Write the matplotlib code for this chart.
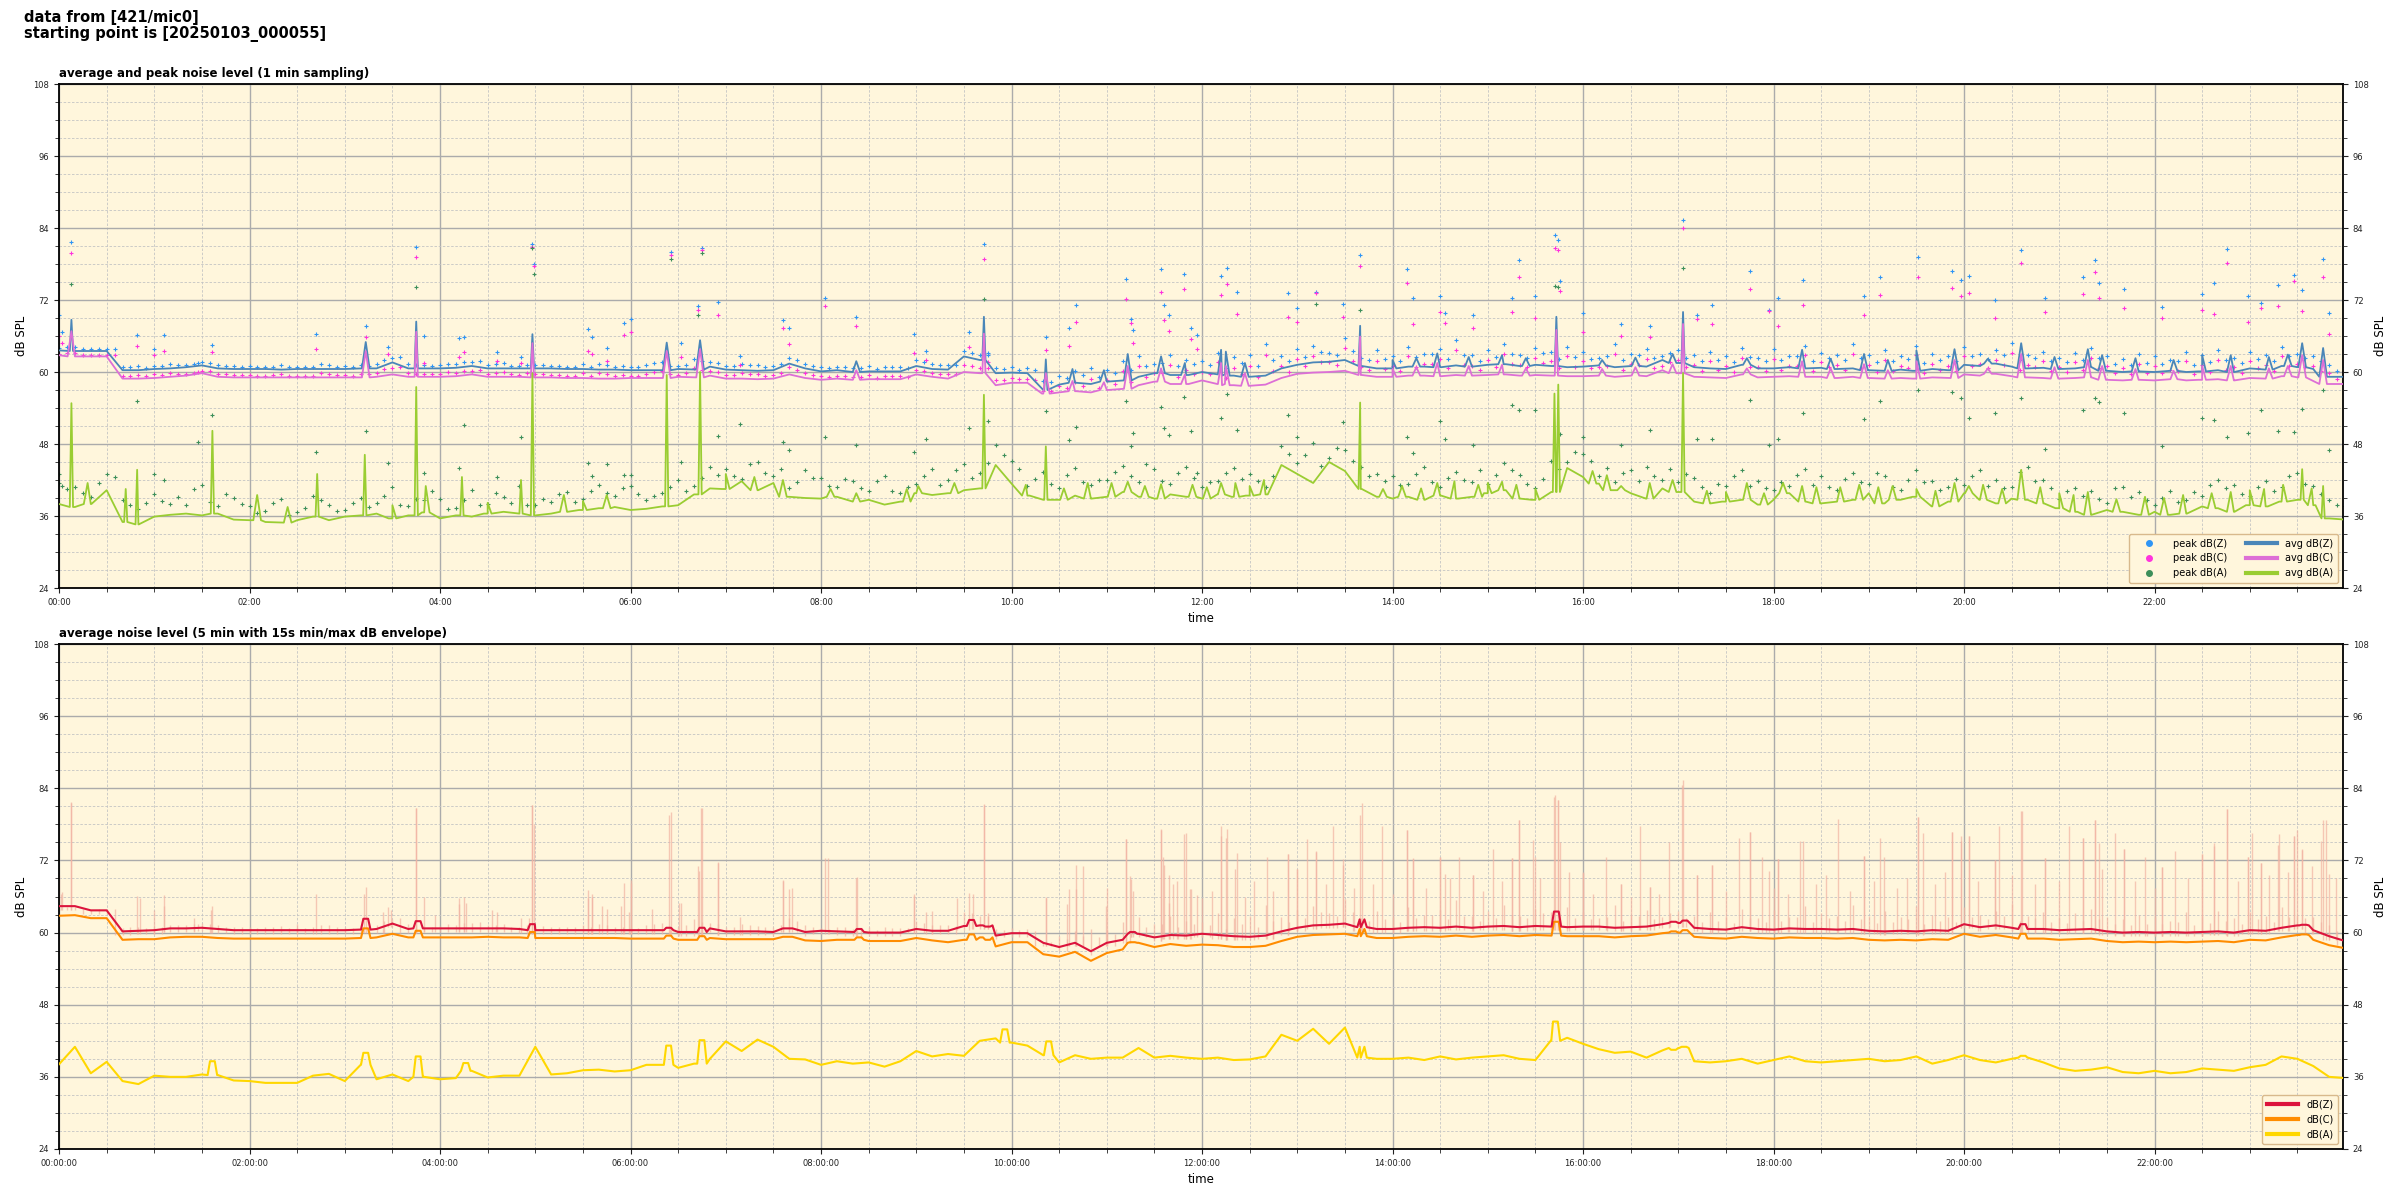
import numpy as np
import matplotlib
matplotlib.use('Agg')
import matplotlib.pyplot as plt
from matplotlib.ticker import MultipleLocator, FuncFormatter
from matplotlib.lines import Line2D

# ---------------- top panel: 1-min averages (10-min readings) ----------------
avgZ = [63.6, 63.5, 63.5, 63.5, 60.3, 60.3,
        60.5, 60.6, 60.8, 61.1, 60.6, 60.5,
        60.5, 60.5, 60.4, 60.5, 60.5, 60.5,
        60.5, 60.6, 60.6, 61.6, 60.6, 60.6,
        60.6, 60.7, 61.0, 60.6, 60.6, 60.6,
        60.6, 60.6, 60.5, 60.5, 60.4, 60.4,
        60.3, 60.3, 60.3, 60.5, 60.4, 60.9,
        60.4, 60.3, 60.2, 60.3, 61.4, 60.6,
        60.1, 60.3, 60.0, 60.1, 60.1, 60.1,
        61.0, 60.5, 60.4, 62.6, 62.0, 59.8,
        59.9, 59.8, 57.0, 57.9, 58.2, 58.0,
        58.4, 58.6, 59.2, 59.8, 59.5, 59.5,
        60.0, 59.6, 59.4, 59.2, 59.4, 60.6,
        61.2, 61.6, 61.7, 62.0, 61.0, 60.6,
        60.6, 60.9, 60.9, 60.8, 61.1, 60.9,
        61.2, 61.3, 61.0, 61.2, 61.0, 60.8,
        60.9, 61.1, 60.8, 61.0, 60.9, 62.0,
        61.5, 60.8, 60.6, 60.5, 61.2, 60.6,
        60.6, 60.8, 60.6, 60.7, 60.5, 60.6,
        60.3, 60.2, 60.4, 60.2, 60.5, 60.3,
        61.2, 61.0, 61.4, 60.9, 60.6, 60.7,
        60.5, 60.6, 60.8, 60.2, 60.0, 60.1,
        60.0, 60.2, 60.0, 60.1, 60.3, 60.0,
        60.6, 60.4, 61.0, 60.8, 60.5, 59.2,
        59.2]
avgC = [62.8, 62.6, 62.6, 62.6, 58.9, 58.9,
        59.0, 59.2, 59.4, 59.8, 59.2, 59.1,
        59.1, 59.1, 59.1, 59.1, 59.1, 59.1,
        59.1, 59.1, 59.2, 59.6, 59.2, 59.2,
        59.2, 59.3, 59.6, 59.2, 59.2, 59.2,
        59.1, 59.1, 59.0, 59.0, 58.9, 58.9,
        59.0, 59.0, 59.0, 59.2, 59.1, 59.4,
        58.9, 58.9, 58.8, 58.9, 59.6, 59.0,
        58.7, 58.9, 58.7, 58.8, 58.8, 58.8,
        59.6, 59.2, 58.9, 60.0, 59.8, 57.8,
        58.2, 58.2, 56.4, 56.6, 56.8, 56.6,
        57.0, 57.2, 57.8, 58.4, 58.0, 58.0,
        58.6, 58.0, 57.8, 57.7, 57.9, 59.0,
        59.7, 59.9, 60.0, 60.2, 59.5, 59.2,
        59.2, 59.4, 59.4, 59.3, 59.5, 59.4,
        59.5, 59.6, 59.4, 59.5, 59.4, 59.3,
        59.3, 59.4, 59.2, 59.4, 59.3, 60.3,
        59.8, 59.2, 59.1, 59.0, 59.6, 59.1,
        59.2, 59.3, 59.2, 59.2, 59.0, 59.2,
        59.0, 58.9, 59.0, 58.9, 59.1, 59.0,
        59.6, 59.4, 59.7, 59.3, 59.1, 59.0,
        58.9, 59.0, 59.1, 58.7, 58.6, 58.7,
        58.6, 58.8, 58.6, 58.7, 58.8, 58.6,
        59.0, 58.9, 59.3, 59.1, 58.5, 58.0,
        58.0]
avgA = [38.0, 37.5, 38.0, 40.3, 35.0, 34.6,
        35.9, 36.2, 36.4, 36.1, 36.4, 35.4,
        35.3, 35.0, 34.9, 35.3, 35.9, 35.3,
        35.9, 36.1, 36.4, 35.6, 36.1, 36.6,
        35.6, 36.1, 35.9, 36.4, 36.7, 36.4,
        36.1, 36.4, 36.7, 37.0, 37.3, 37.5,
        37.0, 37.2, 37.6, 37.8, 39.6, 40.6,
        40.5, 41.8, 40.3, 41.5, 39.2, 39.0,
        38.9, 39.2, 38.4, 38.7, 37.9, 38.4,
        39.8, 39.5, 39.8, 40.3, 40.6, 44.5,
        41.4, 39.4, 38.7, 38.7, 39.4, 38.9,
        39.2, 40.0, 39.2, 38.9, 39.6, 39.2,
        38.9, 39.6, 39.2, 39.4, 39.6, 44.5,
        43.0, 41.5, 45.0, 43.5, 40.5, 39.2,
        38.9, 39.2, 38.7, 39.4, 38.9, 39.2,
        39.8, 40.3, 38.9, 38.7, 40.0, 44.0,
        42.5, 41.4, 40.3, 39.8, 38.9, 40.6,
        40.0, 38.4, 38.1, 38.4, 38.7, 37.9,
        38.7, 39.8, 38.4, 38.1, 38.4, 38.7,
        39.8, 38.1, 38.7, 39.2, 37.6, 38.4,
        39.8, 38.7, 38.1, 38.9, 38.7, 38.1,
        37.3, 36.7, 36.2, 37.0, 36.7, 36.2,
        36.7, 36.2, 36.4, 37.6, 37.3, 36.7,
        37.8, 37.6, 38.4, 38.7, 37.8, 35.6,
        35.4]

# short spikes of the 1-min averages (hour of day, dB)
spkZC_t = [0.13, 3.22, 3.75, 4.97, 6.38, 6.73, 8.37, 9.71, 10.36, 10.64, 10.97, 11.22, 11.57,
           11.82, 12.20, 12.25, 12.45, 13.66, 14.00, 14.25, 14.47, 14.80, 15.15, 15.40, 15.72,
           16.20, 16.55, 16.94, 17.05, 17.72, 18.30, 18.60, 18.95, 19.20, 19.50, 19.90, 20.25,
           20.60, 20.95, 21.30, 21.45, 21.80, 22.20, 22.50, 22.80, 23.20, 23.40, 23.55, 23.77]
spkZ_v = [68.7, 65.0, 68.4, 66.3, 64.9, 65.3, 61.8, 69.2, 62.1, 60.5, 60.3, 63.0, 62.6,
          61.5, 63.7, 63.4, 61.5, 67.7, 62.0, 62.3, 63.1, 62.5, 62.8, 62.3, 69.2,
          62.0, 62.4, 63.0, 70.0, 62.3, 63.7, 62.2, 63.0, 62.0, 63.6, 63.8, 62.2,
          64.8, 62.5, 63.8, 62.8, 62.3, 62.0, 62.8, 62.8, 62.5, 62.9, 64.8, 64.0]
spkC_v = [66.8, 63.5, 66.7, 64.8, 63.5, 63.8, 60.3, 66.4, 59.8, 58.5, 58.3, 61.0, 60.6,
          59.6, 61.5, 61.0, 59.8, 65.9, 60.5, 60.8, 61.5, 61.0, 61.2, 60.6, 67.0,
          60.5, 60.8, 61.3, 68.0, 60.6, 61.8, 60.6, 61.3, 60.3, 61.8, 62.0, 60.6,
          63.0, 60.8, 62.0, 61.0, 60.5, 60.2, 61.0, 61.0, 60.6, 61.0, 62.8, 62.0]
spkA_t = [0.13, 0.70, 0.82, 1.61, 2.08, 2.71, 3.21, 3.75, 3.85, 4.23, 4.85, 4.97, 5.30, 5.75,
          6.38, 6.73, 7.60, 8.37, 8.90, 9.02, 9.71, 10.36, 10.80, 11.22, 11.57, 12.20, 12.50,
          13.66, 14.47, 14.90, 15.15, 15.70, 15.74, 16.40, 16.94, 17.05, 17.72, 18.30, 18.70,
          19.25, 19.50, 19.90, 20.20, 20.60, 21.00, 21.30, 22.30, 22.80, 23.00, 23.55, 23.77,
          11.05, 11.40, 11.90, 12.05, 12.35, 12.65, 13.90, 14.10, 14.30, 14.65, 15.00, 15.30,
          15.50, 16.10, 16.25, 16.70, 17.30, 17.50, 17.90, 18.10, 18.45, 18.90, 19.10, 19.70,
          20.05, 20.40, 20.80, 21.15, 21.60, 21.90, 22.10, 22.60, 23.15, 23.35, 23.65,
          0.30, 2.40, 3.50, 4.50, 5.50, 7.00, 7.30, 8.10, 9.40, 10.15, 10.55]
spkA_v = [54.8, 40.5, 43.7, 50.2, 39.5, 43.0, 46.2, 57.5, 41.0, 42.5, 42.0, 59.8, 39.5, 39.5,
          59.5, 60.0, 42.0, 39.8, 40.5, 41.0, 56.2, 47.6, 41.5, 41.7, 41.3, 41.5, 41.0,
          54.9, 41.5, 41.2, 41.7, 56.4, 57.9, 41.0, 42.0, 59.8, 41.5, 41.0, 40.8,
          41.0, 40.5, 41.5, 41.2, 43.7, 39.8, 40.0, 39.5, 40.0, 40.3, 43.8, 41.0,
          41.5, 41.0, 41.2, 40.8, 41.5, 42.0, 40.5, 41.0, 40.6, 41.8, 41.5, 41.2,
          40.5, 43.5, 42.8, 41.5, 40.2, 40.0, 39.8, 41.5, 40.8, 41.2, 40.8, 40.2,
          41.0, 40.5, 40.8, 39.5, 38.8, 39.2, 39.0, 39.8, 40.5, 41.2, 40.6,
          41.5, 37.5, 37.8, 38.2, 38.5, 43.0, 42.5, 40.5, 41.5, 41.2, 40.6]

# ---------------- top panel: 1-min peaks ----------------
pkZ_b1 = [64.2, 63.9, 63.9, 63.9, 60.9, 60.7,
          61.0, 61.2, 61.4, 61.5, 61.0, 60.9,
          60.8, 60.9, 60.8, 60.8, 61.3, 60.9,
          60.8, 61.0, 62.0, 62.5, 61.2, 61.0,
          61.4, 61.6, 61.8, 61.3, 61.0, 61.2,
          61.1, 61.0, 60.9, 60.9, 61.2, 61.0,
          60.8, 61.5, 61.0, 61.2, 61.8, 61.5,
          61.0, 61.2, 60.9, 61.3, 62.0, 61.0,
          60.6, 60.9, 60.7, 60.5, 60.8, 60.7,
          61.6, 61.2, 61.1, 63.2, 62.8, 60.5,
          60.4, 60.3, 58.4, 59.0, 59.5, 59.2,
          59.8, 60.3, 61.0, 61.5, 61.0, 61.4,
          61.2, 60.6, 61.5, 61.0, 62.0, 61.8,
          62.5, 63.4, 62.8, 63.5, 62.0, 62.2,
          61.8, 62.5, 63.0, 62.2, 62.8, 61.9,
          62.5, 63.0, 62.4, 63.2, 62.2, 62.5,
          62.2, 62.6, 62.0, 62.8, 62.3, 63.2,
          62.4, 61.8, 62.0, 61.6, 62.5, 61.8,
          62.0, 62.6, 61.8, 62.4, 62.0, 62.3,
          61.6, 61.8, 62.2, 61.5, 62.0, 61.8,
          62.6, 62.2, 62.8, 62.0, 62.4, 61.8,
          61.6, 62.0, 62.3, 61.4, 61.2, 61.5,
          61.4, 61.8, 61.2, 61.6, 62.0, 61.5,
          62.2, 61.8, 62.6, 62.4, 61.8, 60.2]
pkC_b1 = [63.2, 62.9, 62.9, 62.9, 59.4, 59.3,
          59.5, 59.7, 59.9, 60.2, 59.6, 59.5,
          59.4, 59.5, 59.4, 59.4, 59.8, 59.5,
          59.4, 59.6, 60.5, 60.8, 59.7, 59.6,
          60.0, 60.2, 60.3, 59.8, 59.6, 59.8,
          59.6, 59.5, 59.4, 59.4, 59.7, 59.5,
          59.4, 60.0, 59.6, 59.8, 60.3, 60.0,
          59.5, 59.7, 59.4, 59.8, 60.4, 59.5,
          59.2, 59.4, 59.2, 59.0, 59.3, 59.2,
          60.1, 59.7, 59.6, 61.0, 60.6, 58.6,
          58.8, 58.6, 56.8, 57.4, 57.6, 57.4,
          58.0, 58.4, 59.2, 59.8, 59.2, 59.6,
          59.6, 59.0, 59.6, 59.2, 60.2, 60.0,
          61.0, 61.6, 61.2, 61.8, 60.4, 60.5,
          60.2, 60.8, 61.4, 60.6, 61.2, 60.3,
          60.8, 61.4, 60.8, 61.5, 60.6, 60.8,
          60.6, 61.0, 60.4, 61.2, 60.7, 61.6,
          60.8, 60.2, 60.4, 60.0, 60.8, 60.2,
          60.4, 61.0, 60.2, 60.8, 60.4, 60.7,
          60.0, 60.2, 60.6, 59.9, 60.4, 60.2,
          61.0, 60.6, 61.2, 60.4, 60.8, 60.2,
          60.0, 60.4, 60.7, 59.8, 59.6, 59.9,
          59.8, 60.2, 59.6, 60.0, 60.4, 59.9,
          60.6, 60.2, 61.0, 60.8, 60.2, 58.8]
pkA_b1 = [40.5, 39.8, 41.5, 42.5, 37.8, 38.2,
          38.5, 39.2, 40.5, 38.4, 39.6, 38.0,
          36.5, 38.2, 36.2, 37.4, 38.6, 36.8,
          38.2, 37.5, 39.4, 37.8, 38.9, 40.2,
          37.2, 38.6, 37.8, 39.8, 38.2, 37.9,
          38.8, 39.6, 38.4, 40.2, 39.8, 40.6,
          39.6, 39.4, 40.8, 40.2, 42.4, 42.8,
          42.6, 44.6, 43.2, 43.8, 41.6, 42.4,
          41.0, 42.2, 40.6, 41.8, 40.2, 40.8,
          42.6, 41.2, 43.6, 42.4, 44.8, 46.2,
          43.8, 42.2, 41.4, 42.8, 41.6, 42.0,
          43.4, 42.6, 44.6, 41.8, 43.2, 42.4,
          41.6, 43.2, 42.2, 41.8, 42.6, 46.4,
          46.2, 44.4, 47.4, 45.2, 42.6, 41.8,
          41.2, 43.0, 41.6, 42.4, 42.0, 43.6,
          42.8, 43.6, 41.4, 42.2, 43.8, 46.6,
          45.2, 44.0, 43.2, 41.8, 42.6, 43.8,
          43.0, 40.8, 41.4, 42.6, 41.0, 40.6,
          41.6, 42.8, 41.2, 40.8, 42.2, 41.6,
          43.2, 40.8, 42.0, 41.6, 40.4, 42.2,
          42.6, 41.0, 40.6, 43.4, 41.8, 40.6,
          40.2, 39.4, 38.8, 40.6, 39.2, 38.6,
          39.0, 38.4, 40.0, 41.2, 40.6, 39.6,
          40.8, 40.2, 42.6, 41.4, 39.6, 37.8]
pkZ_b2 = [64.0, 64.2, 63.8, 63.9, 60.8, 61.0,
          61.0, 61.3, 61.2, 61.6, 61.2, 61.0,
          61.0, 60.9, 61.1, 60.8, 60.9, 61.2,
          61.0, 61.2, 61.3, 62.3, 61.4, 61.1,
          61.1, 61.3, 61.6, 61.2, 61.5, 61.0,
          61.2, 61.0, 60.9, 61.3, 61.4, 60.9,
          60.9, 61.2, 61.6, 61.0, 62.2, 61.6,
          61.0, 61.4, 61.1, 61.0, 62.4, 61.3,
          60.8, 60.9, 60.6, 61.0, 60.9, 60.8,
          62.0, 61.3, 61.2, 63.5, 62.8, 60.6,
          60.8, 60.6, 58.5, 59.4, 60.2, 60.6,
          60.4, 61.8, 62.6, 61.4, 62.8, 62.0,
          61.8, 63.2, 62.5, 62.8, 64.6, 62.6,
          63.8, 64.4, 63.2, 65.6, 62.4, 63.6,
          62.6, 64.2, 63.0, 63.8, 65.4, 62.8,
          63.6, 64.6, 62.8, 64.0, 63.4, 64.2,
          63.4, 62.4, 64.6, 63.0, 63.8, 62.6,
          63.6, 62.8, 63.4, 62.6, 64.0, 62.4,
          63.8, 62.6, 64.4, 63.2, 62.8, 64.6,
          62.8, 63.6, 62.6, 64.4, 63.0, 62.6,
          64.2, 63.0, 63.6, 64.8, 62.8, 63.4,
          62.4, 63.2, 64.0, 62.6, 62.2, 63.0,
          62.6, 62.0, 63.4, 62.8, 63.6, 62.4,
          63.4, 62.8, 64.2, 63.0, 62.6, 61.2,
          60.8]
pkC_b2 = [63.0, 63.2, 62.8, 62.9, 59.4, 59.5,
          59.6, 59.8, 59.7, 60.2, 59.7, 59.5,
          59.5, 59.4, 59.6, 59.3, 59.4, 59.7,
          59.5, 59.7, 59.8, 60.6, 59.8, 59.6,
          59.6, 59.8, 60.1, 59.7, 60.0, 59.5,
          59.7, 59.5, 59.4, 59.8, 59.9, 59.4,
          59.4, 59.7, 60.1, 59.5, 60.6, 60.1,
          59.5, 59.9, 59.6, 59.5, 60.8, 59.8,
          59.3, 59.4, 59.1, 59.5, 59.4, 59.3,
          60.4, 59.8, 59.6, 61.2, 60.6, 58.6,
          59.0, 58.8, 56.8, 57.6, 58.4, 58.8,
          58.6, 60.2, 61.0, 59.8, 61.2, 60.4,
          60.0, 61.6, 60.6, 61.0, 62.8, 61.0,
          62.2, 62.6, 61.6, 64.0, 60.8, 61.8,
          61.0, 62.6, 61.4, 62.2, 63.6, 61.0,
          62.0, 63.0, 61.2, 62.4, 61.8, 62.6,
          61.8, 60.8, 63.0, 61.4, 62.2, 61.0,
          62.0, 61.2, 61.8, 61.0, 62.4, 60.8,
          62.2, 61.0, 62.8, 61.6, 61.2, 63.0,
          61.2, 62.0, 61.0, 62.8, 61.4, 61.0,
          62.6, 61.4, 62.0, 63.2, 61.2, 61.8,
          60.8, 61.6, 62.4, 61.0, 60.6, 61.4,
          61.0, 60.4, 61.8, 61.2, 62.0, 60.8,
          61.8, 61.2, 62.6, 61.4, 61.0, 59.8,
          59.4]
pkA_b2 = [41.5, 40.8, 39.2, 43.0, 38.6, 37.2,
          39.6, 38.0, 37.8, 41.2, 37.6, 39.0,
          37.6, 36.8, 38.8, 36.6, 39.4, 37.8,
          37.0, 39.0, 38.2, 40.8, 37.6, 38.6,
          38.8, 37.4, 40.4, 38.0, 39.2, 41.0,
          37.8, 38.4, 40.0, 38.8, 41.2, 39.4,
          41.0, 38.6, 39.8, 42.0, 41.0, 44.2,
          43.8, 42.2, 45.0, 42.6, 40.6, 43.6,
          42.4, 40.8, 41.8, 40.2, 42.6, 39.8,
          41.4, 43.8, 42.0, 44.6, 43.2, 47.8,
          45.2, 41.0, 43.4, 40.6, 44.0, 41.2,
          42.0, 44.4, 41.6, 43.8, 41.4, 44.2,
          40.8, 41.8, 44.0, 43.0, 40.8, 47.6,
          44.8, 48.2, 45.6, 47.0, 44.2, 43.0,
          42.6, 41.4, 44.2, 40.8, 43.4, 41.6,
          41.4, 44.8, 42.8, 40.6, 45.2, 45.0,
          46.4, 42.6, 41.6, 43.6, 44.2, 42.0,
          41.6, 42.4, 39.8, 41.0, 43.6, 41.8,
          40.4, 41.0, 43.8, 42.6, 40.4, 43.2,
          41.4, 42.6, 40.4, 43.6, 41.8, 40.8,
          41.2, 43.6, 42.0, 40.8, 44.2, 42.0,
          38.8, 40.6, 40.2, 38.2, 40.8, 40.0,
          37.8, 40.2, 38.6, 39.4, 42.0, 41.2,
          39.4, 41.8, 40.8, 43.2, 41.0, 38.6,
          37.6]
# isolated loud minutes (hour, peak Z, peak C, peak A)
pk_out_t = [0.00, 0.03, 0.13, 0.82, 1.00, 1.10, 1.46, 1.61, 2.70, 3.22, 3.45, 3.75, 3.83, 4.20,
            4.25, 4.60, 4.85, 4.97, 4.99, 5.55, 5.60, 5.75, 5.93, 6.00, 6.42, 6.53, 6.71, 6.75,
            6.92, 7.15, 7.60, 7.66, 8.04, 8.37, 8.98, 9.10, 9.55, 9.71, 9.75, 10.36, 10.60,
            10.68, 11.20, 11.25, 11.28, 11.57, 11.60, 11.65, 11.81, 11.88, 11.95, 12.20, 12.26,
            12.37, 12.90, 13.00, 13.20, 13.48, 13.66, 14.15, 14.22, 14.50, 14.55, 14.85, 15.25,
            15.33, 15.50, 15.71, 15.74, 15.76, 16.00, 16.40, 16.70, 17.05, 17.20, 17.35, 17.75,
            17.95, 18.05, 18.31, 18.95, 19.12, 19.52, 19.87, 19.97, 20.05, 20.32, 20.60, 20.85,
            21.25, 21.37, 21.42, 21.68, 22.08, 22.50, 22.62, 22.76, 22.98, 23.12, 23.30, 23.46,
            23.55, 23.77, 23.83]
pkZ_out = [69.5, 66.7, 81.6, 66.1, 63.8, 66.2, 61.5, 64.5, 66.4, 67.6, 64.2, 80.8, 66.0, 65.7,
           65.9, 63.4, 62.5, 81.3, 78.0, 67.1, 65.9, 64.0, 68.2, 68.8, 80.0, 64.9, 71.0, 80.7,
           71.7, 62.6, 68.7, 67.3, 72.4, 69.1, 66.4, 63.5, 66.6, 81.3, 63.2, 65.9, 67.3,
           71.2, 75.5, 68.9, 67.0, 77.1, 71.2, 69.5, 76.4, 67.3, 66.2, 76.0, 77.3,
           73.3, 73.1, 70.6, 73.4, 71.3, 79.5, 77.1, 72.3, 72.6, 69.8, 69.5, 72.4,
           78.7, 72.6, 82.9, 82.0, 75.1, 69.9, 68.0, 67.6, 85.4, 69.5, 71.2, 76.8,
           70.3, 72.3, 75.3, 72.7, 75.8, 79.2, 76.8, 75.3, 76.0, 72.0, 80.3, 72.4,
           75.8, 78.7, 74.9, 73.9, 70.9, 73.0, 74.9, 80.5, 72.6, 71.5, 74.5, 76.1,
           73.7, 78.8, 69.8]
pkC_out = [66.0, 64.8, 79.9, 64.4, 62.9, 63.5, 60.0, 63.4, 63.8, 65.9, 63.0, 79.1, 61.5, 62.5,
           63.3, 61.8, 61.5, 80.8, 77.6, 63.5, 63.0, 61.8, 66.2, 66.6, 79.5, 62.5, 70.3, 80.3,
           69.5, 61.2, 67.4, 64.7, 71.0, 67.6, 63.2, 62.0, 64.2, 78.9, 61.7, 63.6, 64.4,
           68.4, 72.1, 68.1, 64.8, 73.4, 68.7, 66.9, 73.9, 65.5, 63.9, 72.9, 74.7,
           69.6, 69.2, 68.3, 73.2, 69.2, 77.7, 74.9, 68.0, 70.0, 68.2, 67.3, 70.0,
           75.8, 69.0, 80.6, 80.3, 73.5, 66.7, 66.0, 65.8, 84.0, 68.9, 68.0, 73.8,
           70.2, 67.7, 71.2, 69.5, 72.8, 75.8, 74.0, 72.6, 73.1, 69.0, 78.2, 70.0,
           73.0, 76.6, 72.4, 70.6, 69.0, 70.3, 69.7, 78.1, 68.4, 70.7, 71.0, 75.1,
           70.1, 75.9, 66.4]
pkA_out = [43.0, 41.0, 74.7, 55.1, 43.0, 42.0, 48.3, 52.8, 46.6, 50.1, 44.8, 74.1, 43.2, 44.0,
           51.2, 42.5, 49.2, 80.6, 76.3, 44.8, 42.6, 44.7, 42.8, 42.8, 78.9, 45.0, 69.5, 79.8,
           49.3, 51.4, 48.4, 47.0, 49.1, 47.8, 46.6, 48.8, 50.6, 72.1, 51.9, 53.5, 48.7,
           50.8, 55.2, 47.6, 49.8, 54.2, 50.6, 49.5, 55.9, 50.1, 43.1, 52.3, 56.3,
           50.4, 52.8, 49.2, 71.4, 51.7, 70.4, 49.1, 46.5, 51.9, 48.9, 47.8, 54.5,
           53.6, 53.7, 74.3, 74.1, 49.6, 49.1, 47.8, 50.3, 77.3, 48.9, 48.8, 55.4,
           47.8, 48.9, 53.1, 52.1, 55.1, 57.0, 56.7, 55.6, 52.3, 53.1, 55.6, 47.2,
           53.7, 55.6, 55.0, 53.1, 47.7, 52.3, 52.0, 49.1, 49.8, 53.7, 50.1, 50.0,
           53.9, 57.0, 47.0]

# ---------------- bottom panel: 5-min averages (10-min readings) ----------------
avg5Z = [64.4, 64.4, 63.7, 63.7, 60.2, 60.3,
         60.4, 60.7, 60.7, 60.8, 60.6, 60.4,
         60.4, 60.4, 60.4, 60.4, 60.4, 60.4,
         60.4, 60.5, 60.6, 61.5, 60.6, 60.7,
         60.7, 60.7, 60.7, 60.7, 60.7, 60.6,
         60.4, 60.4, 60.4, 60.4, 60.4, 60.4,
         60.4, 60.4, 60.4, 60.1, 60.1, 60.7,
         60.2, 60.2, 60.2, 60.1, 60.7, 60.1,
         60.3, 60.2, 60.1, 60.0, 60.0, 60.0,
         60.6, 60.3, 60.3, 61.1, 61.2, 59.5,
         59.9, 59.9, 58.3, 57.6, 58.3, 56.9,
         58.3, 58.8, 59.8, 59.2, 59.6, 59.5,
         59.8, 59.6, 59.4, 59.3, 59.5, 60.2,
         60.8, 61.2, 61.3, 61.5, 60.9, 60.6,
         60.6, 60.8, 60.9, 60.8, 61.0, 60.8,
         61.0, 61.1, 60.9, 61.1, 61.0, 60.9,
         61.0, 61.0, 60.8, 60.9, 61.0, 61.4,
         61.6, 60.8, 60.6, 60.5, 60.9, 60.6,
         60.5, 60.7, 60.6, 60.6, 60.5, 60.6,
         60.3, 60.2, 60.3, 60.2, 60.4, 60.3,
         61.4, 60.9, 61.2, 60.8, 60.6, 60.6,
         60.4, 60.5, 60.6, 60.2, 60.0, 60.1,
         60.0, 60.1, 60.0, 60.1, 60.2, 60.0,
         60.4, 60.3, 60.8, 61.2, 60.4, 59.4,
         58.6]
avg5C = [62.8, 62.9, 62.4, 62.4, 58.8, 58.9,
         58.9, 59.2, 59.3, 59.3, 59.1, 59.0,
         59.0, 59.0, 59.0, 59.0, 59.0, 59.0,
         59.0, 59.1, 59.2, 59.8, 59.2, 59.2,
         59.2, 59.2, 59.2, 59.3, 59.2, 59.2,
         59.1, 59.1, 59.1, 59.1, 59.1, 59.1,
         59.0, 59.0, 59.0, 58.8, 58.8, 59.1,
         58.9, 58.9, 58.9, 58.9, 59.3, 58.7,
         58.6, 58.8, 58.8, 58.6, 58.6, 58.6,
         59.1, 58.7, 58.4, 58.8, 59.2, 57.7,
         58.4, 58.4, 56.4, 56.0, 56.8, 55.3,
         56.6, 57.2, 58.3, 57.6, 58.1, 57.8,
         58.0, 57.9, 57.6, 57.6, 57.8, 58.6,
         59.3, 59.6, 59.7, 59.8, 59.4, 59.1,
         59.1, 59.3, 59.4, 59.3, 59.5, 59.3,
         59.5, 59.6, 59.4, 59.6, 59.5, 59.4,
         59.4, 59.4, 59.2, 59.4, 59.5, 59.9,
         60.0, 59.3, 59.1, 59.0, 59.3, 59.1,
         59.0, 59.2, 59.1, 59.1, 59.0, 59.1,
         58.8, 58.7, 58.8, 58.7, 58.9, 58.8,
         59.8, 59.3, 59.6, 59.2, 59.0, 59.0,
         58.8, 58.9, 59.0, 58.6, 58.4, 58.5,
         58.4, 58.5, 58.4, 58.5, 58.6, 58.4,
         58.8, 58.7, 59.2, 59.6, 58.8, 57.9,
         57.4]
avg5A = [38.1, 41.0, 36.6, 38.5, 35.3, 34.8,
         36.2, 36.0, 36.0, 36.4, 36.3, 35.4,
         35.3, 35.0, 35.0, 35.0, 36.2, 36.5,
         35.3, 38.0, 35.6, 36.4, 35.3, 36.0,
         35.6, 35.8, 37.0, 35.9, 36.2, 36.2,
         41.0, 36.4, 36.6, 37.1, 37.2, 36.9,
         37.1, 38.0, 38.0, 37.5, 38.2, 39.0,
         41.9, 40.3, 42.2, 41.0, 39.0, 38.9,
         38.0, 38.6, 38.2, 38.4, 37.7, 38.6,
         40.3, 39.4, 39.8, 39.5, 42.0, 42.4,
         41.7, 41.2, 39.6, 38.4, 39.6, 39.0,
         39.2, 39.2, 40.8, 39.2, 39.5, 39.2,
         39.0, 39.2, 38.8, 38.9, 39.4, 43.0,
         42.0, 44.0, 41.5, 44.2, 39.2, 39.0,
         39.0, 39.2, 38.8, 39.4, 38.9, 39.2,
         39.4, 39.6, 39.0, 38.8, 42.0, 42.5,
         41.5, 40.6, 40.0, 40.2, 39.2, 40.4,
         40.8, 38.6, 38.4, 38.6, 39.0, 38.2,
         38.8, 39.4, 38.6, 38.4, 38.6, 38.8,
         39.0, 38.6, 38.8, 39.4, 38.2, 38.8,
         39.6, 38.8, 38.4, 39.0, 39.2, 38.4,
         37.4, 37.0, 37.2, 37.6, 36.8, 36.6,
         37.0, 36.6, 36.8, 37.4, 37.2, 37.0,
         37.6, 38.0, 39.4, 39.0, 37.8, 36.0,
         35.8]
# 5-min plateaus around loud events (hour, dB)
bump_t = [3.22, 3.77, 4.97, 6.40, 6.75, 7.65, 8.40, 9.58, 9.75, 11.27, 13.68, 15.72, 16.95,
          17.07, 20.62, 23.57]
bumpZ_v = [62.3, 61.9, 61.4, 60.8, 60.8, 60.7, 60.6, 62.1, 61.0, 60.1, 62.2, 63.5, 61.8,
           62.0, 61.4, 61.3]
bumpC_v = [60.7, 60.3, 60.1, 59.5, 59.4, 59.3, 59.2, 59.7, 58.8, 58.4, 60.6, 61.8, 60.2,
           60.4, 59.8, 59.7]
bumpA_t = [1.61, 3.22, 3.77, 4.27, 6.40, 6.75, 9.93, 10.39, 13.68, 15.71, 16.95, 17.06, 20.62]
bumpA_v = [38.6, 40.0, 39.4, 38.3, 41.2, 42.1, 43.9, 41.9, 41.0, 45.2, 40.5, 41.0, 39.5]

# 15 s max envelope peaks (hour, dB)
env_t = [0.02, 0.13, 0.85, 1.10, 1.42, 1.60, 2.50, 3.20, 3.40, 3.48, 3.75, 3.95, 4.20, 4.27,
         4.55, 4.93, 4.97, 5.55, 5.60, 5.70, 5.90, 5.98,
         6.00, 6.23, 6.40, 6.51, 6.72, 6.74, 6.92, 7.60, 7.70, 8.07, 8.38, 8.98, 9.17, 9.43,
         9.60, 9.71, 10.36, 10.58, 10.68, 10.75, 10.99, 11.00, 11.20, 11.24, 11.57, 11.59,
         11.65, 11.69, 11.74, 11.83, 11.87, 12.00,
         12.10, 12.20, 12.25, 12.35, 12.45, 12.55, 12.68, 12.75, 12.90, 13.00, 13.10, 13.20,
         13.30, 13.37, 13.48, 13.60, 13.68, 13.80, 13.89, 14.00, 14.15, 14.22, 14.35, 14.50,
         14.60, 14.70, 14.85, 14.95, 15.06, 15.15, 15.25, 15.33, 15.47, 15.55, 15.70, 15.74,
         15.85, 16.00, 16.10, 16.24, 16.40, 16.50, 16.60, 16.70, 16.80, 16.90, 17.04, 17.20,
         17.35, 17.50, 17.64, 17.75, 17.88, 18.00, 18.05, 18.15, 18.28, 18.45, 18.55, 18.68,
         18.80, 18.95, 19.05, 19.16, 19.30, 19.40, 19.52, 19.57, 19.70, 19.80, 19.87, 19.97,
         20.05, 20.15, 20.32, 20.37, 20.50, 20.61, 20.75, 20.85, 21.00, 21.10, 21.25, 21.37,
         21.45, 21.58, 21.68, 21.80, 21.90, 22.00, 22.08, 22.22, 22.35, 22.50, 22.62, 22.76,
         22.88, 22.98, 23.02, 23.12, 23.20, 23.31, 23.40, 23.46, 23.50, 23.55, 23.65, 23.75,
         23.80, 23.90]
env_v = [66.4, 81.7, 65.8, 64.5, 62.5, 63.8, 61.5, 66.5, 63.5, 63.8, 80.8, 63.0, 64.8, 65.0,
         63.7, 62.5, 81.2, 65.8, 66.5, 64.5, 64.5, 63.5,
         68.3, 63.9, 79.6, 65.0, 70.3, 80.8, 71.6, 68.6, 67.5, 72.4, 69.2, 66.1, 63.6, 65.8,
         66.4, 81.4, 65.8, 64.7, 67.2, 71.1, 64.4, 67.5, 75.6, 69.4, 77.2, 72.5,
         65.0, 68.0, 68.6, 76.6, 67.2, 65.8,
         67.0, 77.7, 75.7, 70.5, 66.0, 68.5, 72.6, 67.0, 73.0, 70.5, 75.6, 73.5,
         68.0, 77.7, 72.3, 67.5, 81.5, 68.0, 77.7, 66.5, 77.0, 72.4, 67.5, 72.6,
         69.0, 72.6, 69.5, 67.0, 73.9, 68.5, 72.4, 78.7, 75.4, 69.0, 82.6, 82.0,
         70.0, 70.0, 66.5, 72.6, 68.0, 66.0, 77.7, 67.6, 66.5, 75.1, 84.6, 69.5,
         71.2, 67.0, 75.8, 76.8, 72.6, 67.5, 72.3, 66.5, 75.3, 68.0, 69.5, 78.9,
         67.0, 72.7, 68.5, 72.6, 67.5, 69.0, 79.2, 76.6, 68.0, 70.0, 76.8, 76.1,
         76.0, 68.5, 72.0, 77.7, 69.5, 80.3, 68.0, 72.4, 68.5, 77.7, 75.8, 78.7,
         70.5, 76.6, 73.9, 68.5, 72.6, 67.5, 70.9, 73.6, 69.0, 73.0, 74.4, 80.5,
         68.5, 72.6, 76.6, 71.5, 69.5, 76.4, 70.0, 76.1, 77.1, 73.9, 71.0, 75.3,
         78.8, 69.0]

tick_hours = list(range(0, 24, 2))

# ---------------- helpers ----------------
t10 = np.arange(len(avgZ)) / 6.0
tb1 = (np.arange(len(pkZ_b1)) * 10 + 5) / 60.0


def with_spikes(base, st, sv):
    """add events to a 10-min reading series; event flanks sit on the nearest reading.
    Loud events are drawn as 1-min needles, small ones as a few-minute bump."""
    tt = list(t10)
    vv = list(base)
    for ts, v in zip(st, sv):
        b = base[int(round(ts * 6))]
        half = 0.017 if v - b > 5 else 0.04
        tt += [ts - half, ts, ts + half]
        vv += [b, v, b]
    o = np.argsort(tt, kind='stable')
    return np.asarray(tt)[o], np.asarray(vv)[o]


def with_plateaus(base, st, sv):
    tt = list(t10)
    vv = list(base)
    for ts, v in zip(st, sv):
        b = base[int(round(ts * 6))]
        tt += [ts - 0.05, ts - 0.025, ts + 0.025, ts + 0.05]
        vv += [b, v, v, b]
    o = np.argsort(tt, kind='stable')
    return np.asarray(tt)[o], np.asarray(vv)[o]


BG = '#fff6dc'

fig = plt.figure(figsize=(24, 12), dpi=100)
ax1 = fig.add_axes([0.0246, 0.51, 0.9517, 0.42])
ax2 = fig.add_axes([0.0246, 0.0425, 0.9517, 0.4208])

fig.text(0.0102, 0.992, 'data from [421/mic0]\nstarting point is [20250103_000055]',
         fontsize=10.5, fontweight='bold', va='top', ha='left', linespacing=1.1)

for ax, fmt in ((ax1, lambda x, p: '%02d:00' % int(round(x))),
                (ax2, lambda x, p: '%02d:00:00' % int(round(x)))):
    ax.set_facecolor(BG)
    ax.set_xlim(0, 23.98)
    ax.set_ylim(24, 108)
    ax.set_xticks(tick_hours)
    ax.xaxis.set_minor_locator(MultipleLocator(0.5))
    ax.xaxis.set_major_formatter(FuncFormatter(fmt))
    ax.yaxis.set_major_locator(MultipleLocator(12))
    ax.yaxis.set_minor_locator(MultipleLocator(3))
    ax.grid(which='major', color='#ababab', lw=1.0, ls='-')
    ax.grid(which='minor', color='#c4c4c4', lw=0.6, ls=(0, (3, 2)))
    ax.set_axisbelow(True)
    ax.tick_params(which='both', labelsize=6, colors='#222222')
    ax.tick_params(which='minor', length=3)
    for s in ax.spines.values():
        s.set_color('black')
        s.set_linewidth(1.3)
    ax.set_ylabel('dB SPL', fontsize=8.5)
    ax.set_xlabel('time', fontsize=8.5)
    axr = ax.twinx()
    axr.set_ylim(24, 108)
    axr.yaxis.set_major_locator(MultipleLocator(12))
    axr.yaxis.set_minor_locator(MultipleLocator(3))
    axr.tick_params(which='both', labelsize=6, colors='#222222')
    axr.tick_params(which='minor', length=3)
    axr.set_ylabel('dB SPL', fontsize=8.5)
    for s in axr.spines.values():
        s.set_visible(False)

# ---------------- top panel ----------------
ax1.set_title('average and peak noise level (1 min sampling)', loc='left',
              fontsize=8.5, fontweight='bold', pad=5)
cZ, cC, cA = '#2f95f5', '#ff33dd', '#3d8f5a'
pk_t = np.concatenate([tb1, t10, pk_out_t])
pkZ = np.concatenate([pkZ_b1, pkZ_b2, pkZ_out])
pkC = np.concatenate([pkC_b1, pkC_b2, pkC_out])
pkA = np.concatenate([pkA_b1, pkA_b2, pkA_out])
ms = 5
ax1.scatter(pk_t, pkZ, s=ms, color=cZ, marker='+', linewidths=0.8, zorder=2)
ax1.scatter(pk_t, pkC, s=ms, color=cC, marker='+', linewidths=0.8, zorder=2)
ax1.scatter(pk_t, pkA, s=ms, color=cA, marker='+', linewidths=0.8, zorder=2)

tz, vz = with_spikes(avgZ, spkZC_t, spkZ_v)
tc, vc = with_spikes(avgC, spkZC_t, spkC_v)
ta, va = with_spikes(avgA, spkA_t, spkA_v)
ax1.plot(tz, vz, color='#4a86b8', lw=1.3, zorder=3)
ax1.plot(tc, vc, color='#dd6fd6', lw=1.3, zorder=3)
ax1.plot(ta, va, color='#9acd32', lw=1.3, zorder=3)

dots = [Line2D([], [], ls='none', marker='o', ms=4, color=c) for c in (cZ, cC, cA)]
lines = [Line2D([], [], color=c, lw=3) for c in ('#4a86b8', '#dd6fd6', '#9acd32')]
leg1 = ax1.legend(dots + lines, ['peak dB(Z)', 'peak dB(C)', 'peak dB(A)',
                                 'avg dB(Z)', 'avg dB(C)', 'avg dB(A)'],
                  ncol=2, loc='lower right', fontsize=7, facecolor=BG, edgecolor='#d8b98c',
                  framealpha=1, handlelength=3.2, columnspacing=2.0, borderpad=0.5)
leg1.set_zorder(10)

# ---------------- bottom panel ----------------
ax2.set_title('average noise level (5 min with 15s min/max dB envelope)', loc='left',
              fontsize=8.5, fontweight='bold', pad=5)
# envelope: 15 s maxima, plus the per-minute peaks they contain
env_all_t = np.concatenate([env_t, pk_t])
env_all_v = np.concatenate([env_v, pkZ])
env_lo = [avg5Z[int(round(t * 6))] - 0.6 for t in env_all_t]
ax2.vlines(env_all_t, env_lo, env_all_v, color='#f2b3a2', lw=1.0, alpha=0.7, zorder=2)

t5a, v5a = with_plateaus(avg5A, bumpA_t, bumpA_v)
t5c, v5c = with_plateaus(avg5C, bump_t, bumpC_v)
t5z, v5z = with_plateaus(avg5Z, bump_t, bumpZ_v)
ax2.plot(t5a, v5a, color='#ffd700', lw=1.5, zorder=3)
ax2.plot(t5c, v5c, color='#ff8c00', lw=1.5, zorder=3)
ax2.plot(t5z, v5z, color='#dc143c', lw=1.5, zorder=4)
h2 = [Line2D([], [], color=c, lw=3) for c in ('#dc143c', '#ff8c00', '#ffd700')]
ax2.legend(h2, ['dB(Z)', 'dB(C)', 'dB(A)'], loc='lower right', fontsize=7, facecolor=BG,
           edgecolor='#d8b98c', framealpha=1, handlelength=3.2, borderpad=0.5)

fig.savefig('out.png', dpi=100)
